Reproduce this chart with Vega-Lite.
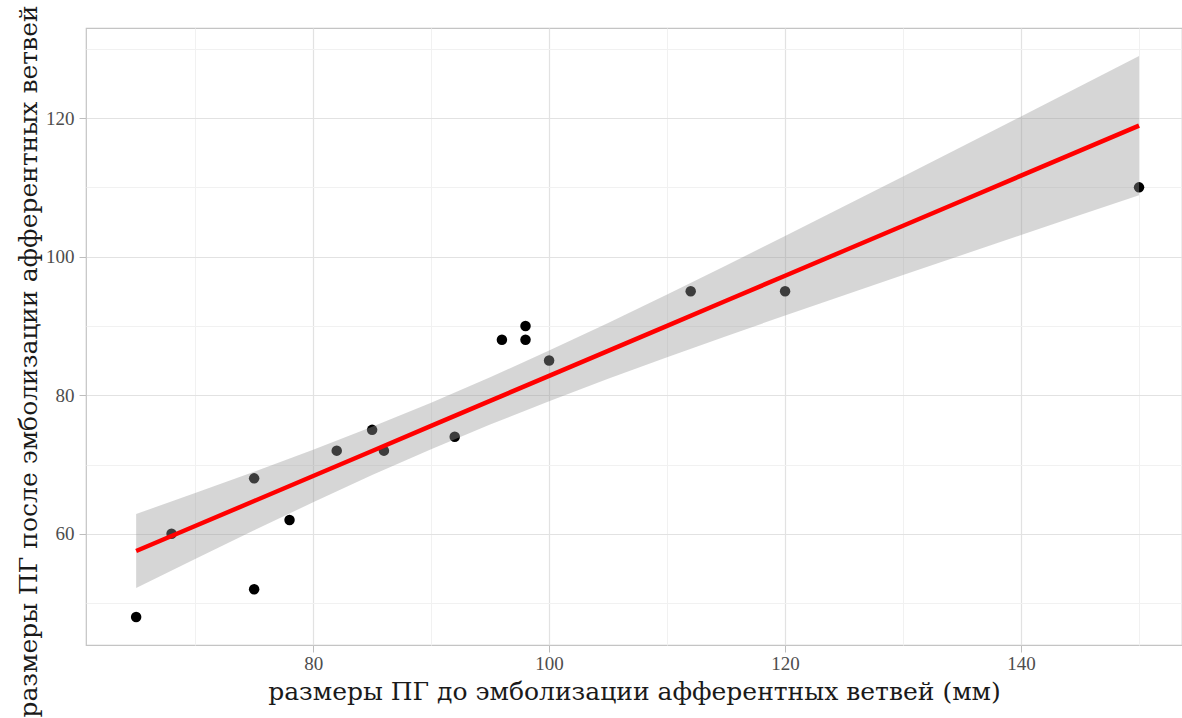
{
  "$schema": "https://vega.github.io/schema/vega-lite/v6.json",
  "width": 1096,
  "height": 617,
  "autosize": {"type": "none"},
  "padding": {"left": 86, "top": 28, "right": 0, "bottom": 73},
  "background": "white",
  "config": {
    "view": {"stroke": "#c4c4c4", "strokeWidth": 1.2},
    "axis": {
      "domain": false,
      "labelFont": "Liberation Serif",
      "labelFontSize": 19,
      "labelColor": "#4d4d4d",
      "titleFont": "DejaVu Serif",
      "titleFontSize": 25,
      "titleFontWeight": "normal",
      "titleColor": "#1a1a1a",
      "titleBaseline": "alphabetic",
      "tickColor": "#bdbdbd",
      "tickSize": 7,
      "gridColor": {"condition": {"test": "datum.value % 20 === 0", "value": "#e2e2e2"}, "value": "#f1f1f1"},
      "gridWidth": {"condition": {"test": "datum.value % 20 === 0", "value": 1.2}, "value": 1},
      "tickOpacity": {"condition": {"test": "datum.value % 20 === 0", "value": 1}, "value": 0},
      "labelExpr": "datum.value % 20 === 0 ? datum.label : ''"
    }
  },
  "datasets": {
    "pts": [
      {"x": 65, "y": 48}, {"x": 68, "y": 60}, {"x": 75, "y": 68}, {"x": 75, "y": 52},
      {"x": 78, "y": 62}, {"x": 82, "y": 72}, {"x": 85, "y": 75}, {"x": 86, "y": 72},
      {"x": 92, "y": 74}, {"x": 96, "y": 88}, {"x": 98, "y": 90}, {"x": 98, "y": 88},
      {"x": 100, "y": 85}, {"x": 112, "y": 95}, {"x": 120, "y": 95}, {"x": 150, "y": 110}
    ],
    "band": [
      {"x": 65, "fit": 57.51, "lo": 52.16, "hi": 62.86},
      {"x": 70, "fit": 61.12, "lo": 56.36, "hi": 65.87},
      {"x": 75, "fit": 64.73, "lo": 60.51, "hi": 68.95},
      {"x": 80, "fit": 68.34, "lo": 64.55, "hi": 72.13},
      {"x": 85, "fit": 71.95, "lo": 68.47, "hi": 75.44},
      {"x": 90, "fit": 75.57, "lo": 72.21, "hi": 78.92},
      {"x": 95, "fit": 79.18, "lo": 75.77, "hi": 82.59},
      {"x": 100, "fit": 82.79, "lo": 79.14, "hi": 86.44},
      {"x": 105, "fit": 86.40, "lo": 82.37, "hi": 90.44},
      {"x": 110, "fit": 90.01, "lo": 85.48, "hi": 94.55},
      {"x": 115, "fit": 93.63, "lo": 88.52, "hi": 98.73},
      {"x": 120, "fit": 97.24, "lo": 91.50, "hi": 102.97},
      {"x": 125, "fit": 100.85, "lo": 94.44, "hi": 107.26},
      {"x": 130, "fit": 104.46, "lo": 97.36, "hi": 111.56},
      {"x": 135, "fit": 108.07, "lo": 100.25, "hi": 115.89},
      {"x": 140, "fit": 111.69, "lo": 103.13, "hi": 120.24},
      {"x": 145, "fit": 115.30, "lo": 106.00, "hi": 124.60},
      {"x": 150, "fit": 118.91, "lo": 108.86, "hi": 128.96}
    ]
  },
  "encoding": {
    "x": {
      "field": "x", "type": "quantitative",
      "scale": {"domain": [60.75, 153.64], "nice": false, "zero": false},
      "axis": {"values": [70, 80, 90, 100, 110, 120, 130, 140, 150], "title": "размеры ПГ до эмболизации афферентных ветвей (мм)", "labelPadding": 2, "titleX": 548, "titleY": 54}
    }
  },
  "layer": [
    {
      "data": {"name": "pts"},
      "mark": {"type": "point", "filled": true, "size": 110, "color": "black", "opacity": 1},
      "encoding": {
        "y": {
          "field": "y", "type": "quantitative",
          "scale": {"domain": [43.95, 133.0], "nice": false, "zero": false},
          "axis": {"values": [50, 60, 70, 80, 90, 100, 110, 120, 130], "title": "размеры ПГ после эмболизации афферентных ветвей", "labelPadding": 5, "titleX": -50, "titleY": 333}
        }
      }
    },
    {
      "data": {"name": "band"},
      "mark": {"type": "area", "color": "#999999", "opacity": 0.4},
      "encoding": {
        "y": {"field": "lo", "type": "quantitative"},
        "y2": {"field": "hi"}
      }
    },
    {
      "data": {"name": "band"},
      "mark": {"type": "line", "color": "#ff0000", "strokeWidth": 4.5},
      "encoding": {
        "y": {"field": "fit", "type": "quantitative"}
      }
    }
  ]
}
